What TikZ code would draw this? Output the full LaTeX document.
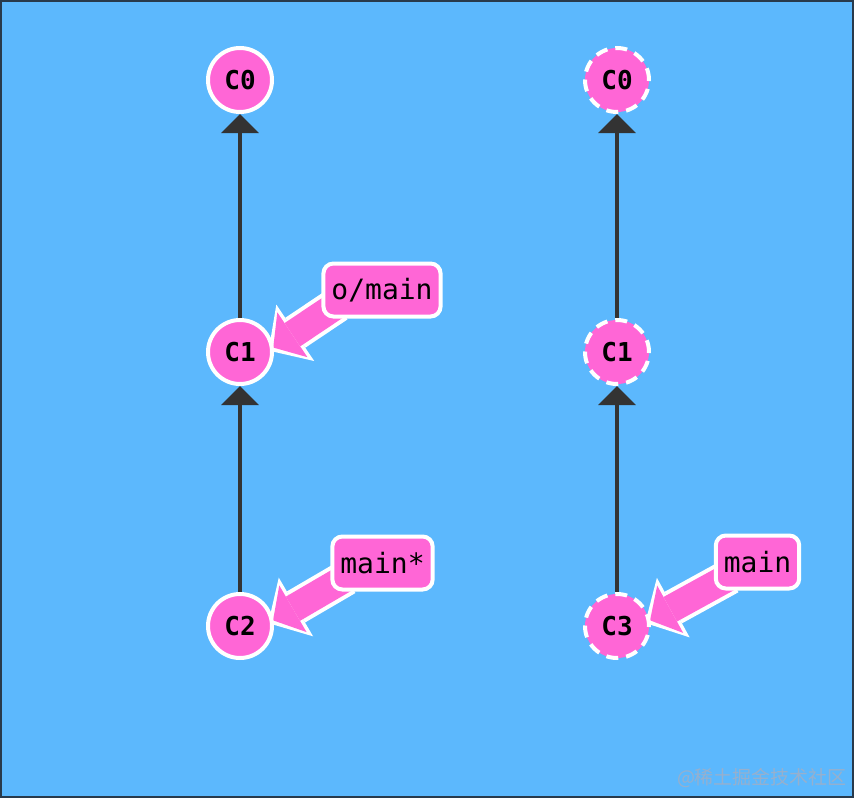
\documentclass[tikz,border=0pt]{standalone}
\usepackage{fontspec}
\setmonofont{DejaVu Sans Mono}
\newfontfamily\cjk{Noto Sans CJK SC}
\usetikzlibrary{arrows.meta,calc}
\definecolor{bgblue}{RGB}{92,184,253}
\definecolor{commitpink}{RGB}{255,102,214}
\definecolor{edgegray}{RGB}{51,51,51}
\definecolor{framegray}{RGB}{40,58,76}
\definecolor{markgray}{RGB}{150,176,206}
\pgfdeclarelayer{back}
\pgfdeclarelayer{ptr}
\pgfsetlayers{back,ptr,main}

\begin{document}
\begin{tikzpicture}[x=1pt,y=-1pt]
	\tikzset{commit/.style = {shape=circle,draw=white,line width=4pt,fill=commitpink,minimum size=64pt,inner sep=0pt,font=\ttfamily\bfseries\fontsize{26}{26}\selectfont}}
	\tikzset{remote/.style = {commit,dash pattern=on 12pt off 8pt}}
	\tikzset{edge/.style = {draw=edgegray,line width=4pt,-{Triangle[width=37pt,length=19pt]}}}
	\tikzset{tag/.style = {shape=rectangle,rounded corners=10pt,draw=white,line width=4pt,fill=commitpink,minimum height=53pt,inner xsep=8pt,font=\ttfamily\fontsize{28}{28}\selectfont}}
	\tikzset{ptrout/.style = {draw=white,line width=36pt,shorten >=-6pt,-{Triangle[width=68pt,length=32pt,line width=0pt]}}}
	\tikzset{ptrin/.style = {draw=commitpink,line width=28pt,shorten >=-0.5pt,-{Triangle[width=54pt,length=23pt,line width=0pt]}}}
	\useasboundingbox (0,0) rectangle (854,798);
	\begin{pgfonlayer}{back}
		\draw[framegray,line width=2pt,fill=bgblue] (1,1) rectangle (853,797);
	\end{pgfonlayer}
	%local repo
	\node[commit] (c0) at (240,80)  {C0};
	\node[commit] (c1) at (240,352) {C1};
	\node[commit] (c2) at (240,626) {C2};
	\node[tag] (omain) at (382,290) {o/main};
	\node[tag] (mstar) at (382.5,563) {main*};
	%remote repo
	\node[remote] (r0) at (617,80)  {C0};
	\node[remote] (r1) at (617,352) {C1};
	\node[remote] (r3) at (617,626) {C3};
	\node[tag] (rmain) at (757.5,562) {main};
	%edges
	\draw[edge] (c1) to (c0);
	\draw[edge] (c2) to (c1);
	\draw[edge] (r1) to (r0);
	\draw[edge] (r3) to (r1);
	%branch pointers
	\begin{pgfonlayer}{ptr}
		\draw[ptrout] ($(omain.south west)+(16,-14)$) to (c1.8);
		\draw[ptrin]  ($(omain.south west)+(16,-14)$) to (c1.8);
		\draw[ptrout] ($(mstar.south west)+(16,-14)$) to (c2.10);
		\draw[ptrin]  ($(mstar.south west)+(16,-14)$) to (c2.10);
		\draw[ptrout] ($(rmain.south west)+(16,-14)$) to (r3.10);
		\draw[ptrin]  ($(rmain.south west)+(16,-14)$) to (r3.10);
	\end{pgfonlayer}
	\node[font=\cjk\fontsize{19}{19}\selectfont,text=markgray] (mark) at (762,778) {@稀土掘金技术社区};
\end{tikzpicture}
\end{document}
